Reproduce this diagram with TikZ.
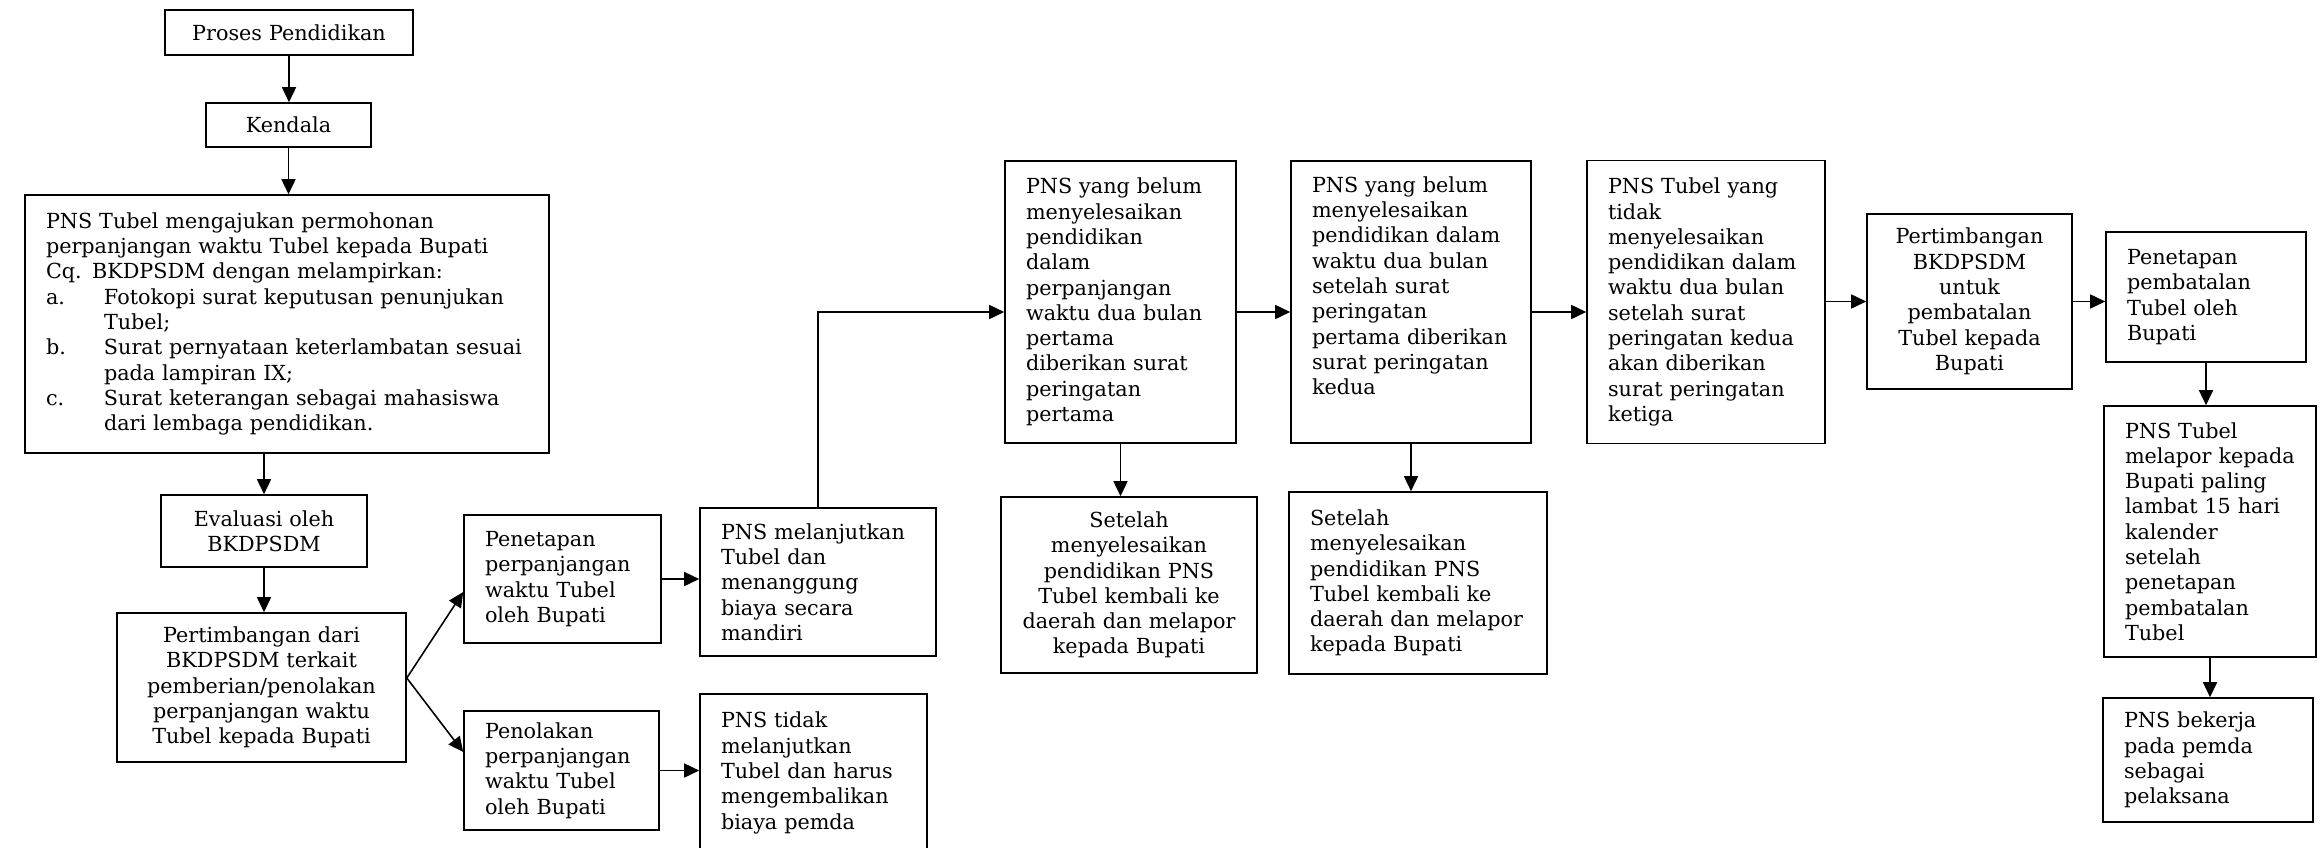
\documentclass[tikz,border=0pt]{standalone}
\usepackage{fontspec}
\setmainfont{DejaVu Serif}
\usepackage{tikz}
\usetikzlibrary{arrows.meta}
\newcommand{\isi}{\fontsize{11.8}{14.4}\selectfont}
\newcommand{\butir}[1]{\makebox[1.16cm][l]{#1}}
\tikzset{
  kotak/.style={draw, line width=0.9pt, inner xsep=0.42cm, inner ysep=0pt, font=\isi, align=left},
  tengah/.style={kotak, align=center},
  panah/.style={-{Triangle[length=3mm, width=2.8mm]}, line width=0.9pt}
}

\begin{document}
\begin{tikzpicture}
    \useasboundingbox (0.00, 0.00) rectangle (46.48,-16.94);
    % kolom kiri
    \node[tengah, text width=4.12cm, minimum height=0.90cm] (proses)   at ( 5.78, -0.65) {Proses Pendidikan};
    \node[tengah, text width=2.46cm, minimum height=0.88cm] (kendala)  at ( 5.77, -2.50) {Kendala};
    \node[kotak,  text width=9.64cm, minimum height=5.16cm] (syarat)   at ( 5.74, -6.48)
         {PNS Tubel mengajukan permohonan\\
          perpanjangan waktu Tubel kepada Bupati\\
          Cq. BKDPSDM dengan melampirkan:\\
          \butir{a.}Fotokopi surat keputusan penunjukan\\
          \butir{}Tubel;\\
          \butir{b.}Surat pernyataan keterlambatan sesuai\\
          \butir{}pada lampiran IX;\\
          \butir{c.}Surat keterangan sebagai mahasiswa\\
          \butir{}dari lembaga pendidikan.};
    \node[tengah, text width=3.28cm, minimum height=1.44cm] (evaluasi) at ( 5.28,-10.62) {Evaluasi oleh\\ BKDPSDM};
    \node[tengah, text width=4.94cm, minimum height=2.98cm] (timbang)  at ( 5.23,-13.75)
         {Pertimbangan dari\\ BKDPSDM terkait\\ pemberian/penolakan\\ perpanjangan waktu\\ Tubel kepada Bupati};
    % cabang perpanjangan
    \node[kotak,  text width=3.10cm, minimum height=2.56cm] (tetap)    at (11.25,-11.58) {Penetapan\\ perpanjangan\\ waktu Tubel\\ oleh Bupati};
    \node[kotak,  text width=3.06cm, minimum height=2.38cm] (tolak)    at (11.23,-15.41) {Penolakan\\ perpanjangan\\ waktu Tubel\\ oleh Bupati};
    \node[kotak,  text width=3.88cm, minimum height=2.96cm] (lanjut)   at (16.36,-11.64) {PNS melanjutkan\\ Tubel dan\\ menanggung\\ biaya secara\\ mandiri};
    \node[kotak,  text width=3.70cm, minimum height=3.16cm] (henti)    at (16.27,-15.46) {PNS tidak\\ melanjutkan\\ Tubel dan harus\\ mengembalikan\\ biaya pemda};
    % surat peringatan
    \node[kotak,  text width=3.78cm, minimum height=5.64cm] (sp1)      at (22.41, -6.04)
         {PNS yang belum\\ menyelesaikan\\ pendidikan\\ dalam\\ perpanjangan\\ waktu dua bulan\\ pertama\\ diberikan surat\\ peringatan\\ pertama};
    \node[tengah, text width=4.28cm, minimum height=3.52cm] (lapor1)   at (22.58,-11.70)
         {Setelah\\ menyelesaikan\\ pendidikan PNS\\ Tubel kembali ke\\ daerah dan melapor\\ kepada Bupati};
    \node[kotak,  text width=3.96cm, minimum height=5.64cm] (sp2)      at (28.22, -6.04)
         {PNS yang belum\\ menyelesaikan\\ pendidikan dalam\\ waktu dua bulan\\ setelah surat\\ peringatan\\ pertama diberikan\\ surat peringatan\\ kedua\\ \strut};
    \node[kotak,  text width=4.32cm, minimum height=3.64cm] (lapor2)   at (28.36,-11.66)
         {Setelah\\ menyelesaikan\\ pendidikan PNS\\ Tubel kembali ke\\ daerah dan melapor\\ kepada Bupati};
    \node[kotak,  text width=3.92cm, minimum height=5.66cm] (sp3)      at (34.12, -6.04)
         {PNS Tubel yang\\ tidak\\ menyelesaikan\\ pendidikan dalam\\ waktu dua bulan\\ setelah surat\\ peringatan kedua\\ akan diberikan\\ surat peringatan\\ ketiga};
    % pembatalan
    \node[tengah, text width=3.26cm, minimum height=3.50cm] (batal)    at (39.39, -6.03)
         {Pertimbangan\\ BKDPSDM\\ untuk\\ pembatalan\\ Tubel kepada\\ Bupati};
    \node[kotak,  text width=3.16cm, minimum height=2.60cm] (tetapbatal) at (44.12, -5.94) {Penetapan\\ pembatalan\\ Tubel oleh\\ Bupati};
    \node[kotak,  text width=3.40cm, minimum height=5.02cm] (melapor)  at (44.20,-10.63)
         {PNS Tubel\\ melapor kepada\\ Bupati paling\\ lambat 15 hari\\ kalender\\ setelah\\ penetapan\\ pembatalan\\ Tubel};
    \node[kotak,  text width=3.36cm, minimum height=2.48cm] (bekerja)  at (44.16,-15.20) {PNS bekerja\\ pada pemda\\ sebagai\\ pelaksana};
    % panah
    \draw[panah] (proses.south)  -- (proses.south |- kendala.north);
    \draw[panah] (kendala.south) -- (kendala.south |- syarat.north);
    \draw[panah] (evaluasi.north |- syarat.south) -- (evaluasi.north);
    \draw[panah] (evaluasi.south) -- (evaluasi.south |- timbang.north);
    \draw[panah] ([yshift=1.9mm]timbang.east) -- ([yshift=-2.6mm]tetap.west);
    \draw[panah] ([yshift=1.9mm]timbang.east) -- ([yshift=3.7mm]tolak.west);
    \draw[panah] (tetap.east) -- (tetap.east -| lanjut.west);
    \draw[panah] (tolak.east) -- (tolak.east -| henti.west);
    \draw[panah] (lanjut.north) |- ([yshift=-2mm]sp1.west);
    \draw[panah] ([yshift=-2mm]sp1.east) -- ([yshift=-2mm]sp1.east -| sp2.west);
    \draw[panah] ([yshift=-2mm]sp2.east) -- ([yshift=-2mm]sp2.east -| sp3.west);
    \draw[panah] (sp1.south) -- (sp1.south |- lapor1.north);
    \draw[panah] (sp2.south) -- (sp2.south |- lapor2.north);
    \draw[panah] (batal.west -| sp3.east) -- (batal.west);
    \draw[panah] (batal.east) -- (batal.east -| tetapbatal.west);
    \draw[panah] (tetapbatal.south) -- (tetapbatal.south |- melapor.north);
    \draw[panah] (melapor.south) -- (melapor.south |- bekerja.north);
\end{tikzpicture}
\end{document}
